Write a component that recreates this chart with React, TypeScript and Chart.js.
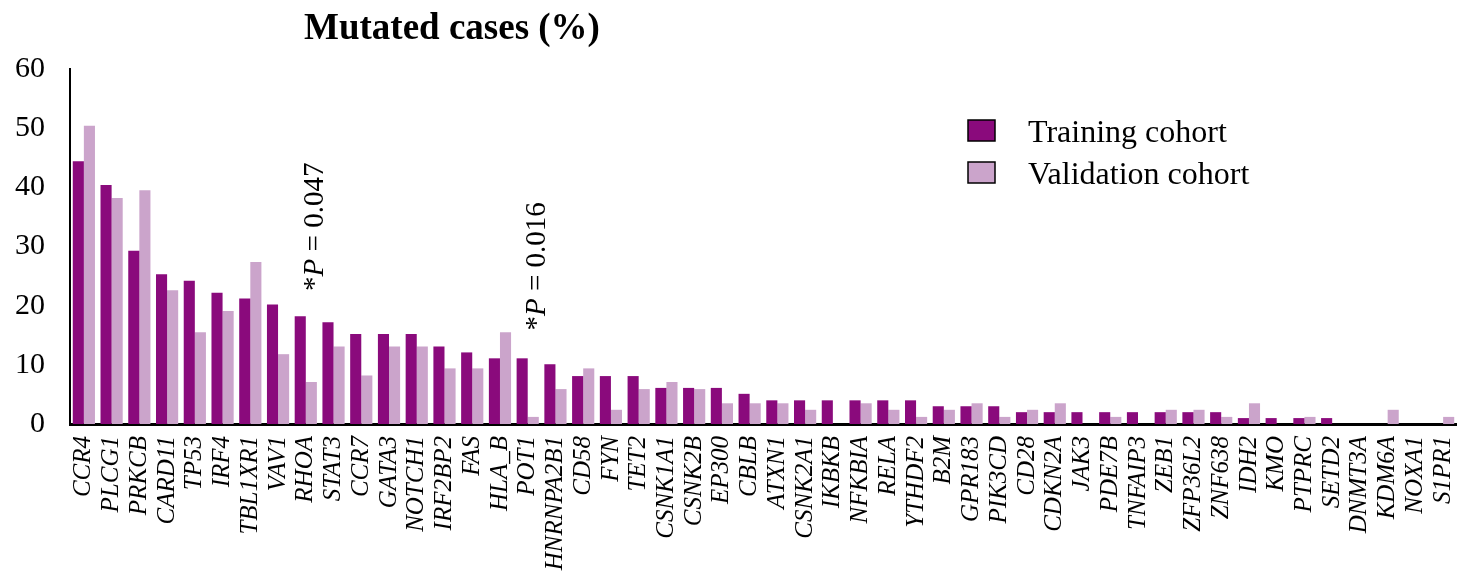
import React, { useEffect, useRef } from "react";
import { Chart, registerables } from "chart.js";

Chart.register(...registerables);

const genes = [
  "CCR4", "PLCG1", "PRKCB", "CARD11", "TP53", "IRF4", "TBL1XR1", "VAV1", "RHOA", "STAT3",
  "CCR7", "GATA3", "NOTCH1", "IRF2BP2", "FAS", "HLA_B", "POT1", "HNRNPA2B1", "CD58", "FYN",
  "TET2", "CSNK1A1", "CSNK2B", "EP300", "CBLB", "ATXN1", "CSNK2A1", "IKBKB", "NFKBIA", "RELA",
  "YTHDF2", "B2M", "GPR183", "PIK3CD", "CD28", "CDKN2A", "JAK3", "PDE7B", "TNFAIP3", "ZEB1",
  "ZFP36L2", "ZNF638", "IDH2", "KMO", "PTPRC", "SETD2", "DNMT3A", "KDM6A", "NOXA1", "S1PR1",
];

const trainingCohort = [
  44.4, 40.4, 29.3, 25.3, 24.2, 22.2, 21.2, 20.2, 18.2, 17.2,
  15.2, 15.2, 15.2, 13.1, 12.1, 11.1, 11.1, 10.1, 8.1, 8.1,
  8.1, 6.1, 6.1, 6.1, 5.1, 4.0, 4.0, 4.0, 4.0, 4.0,
  4.0, 3.0, 3.0, 3.0, 2.0, 2.0, 2.0, 2.0, 2.0, 2.0,
  2.0, 2.0, 1.0, 1.0, 1.0, 1.0, 0, 0, 0, 0,
];

const validationCohort = [
  50.4, 38.2, 39.5, 22.6, 15.5, 19.1, 27.4, 11.8, 7.1, 13.1,
  8.2, 13.1, 13.1, 9.4, 9.4, 15.5, 1.2, 5.9, 9.4, 2.4,
  5.9, 7.1, 5.9, 3.5, 3.5, 3.5, 2.4, 0, 3.5, 2.4,
  1.2, 2.4, 3.5, 1.2, 2.4, 3.5, 0, 1.2, 0, 2.4,
  2.4, 1.2, 3.5, 0, 1.2, 0, 0, 2.4, 0, 1.2,
];

const yTicks = [0, 10, 20, 30, 40, 50, 60];

const seriesNames = ["Training cohort", "Validation cohort"];
const seriesColors = ["#8A0A7C", "#CBA4CB"];

const pAnnotations = [
  { gene: "RHOA", text: "0.047", yValue: 22.5 },
  { gene: "POT1", text: "0.016", yValue: 15.8 },
];

const FONT = '"Liberation Serif", "Times New Roman", serif';

const overlayPlugin = {
  id: "overlay",
  afterDraw(chart: any) {
    const ctx = chart.ctx;
    const xs = chart.scales.x;
    const ys = chart.scales.y;
    ctx.save();
    // Title
    ctx.fillStyle = "#000";
    ctx.font = `bold 37px ${FONT}`;
    ctx.textAlign = "left";
    ctx.textBaseline = "alphabetic";
    ctx.fillText("Mutated cases (%)", 304, 39);

    // Legend
    const lx = 968;
    const ly = [120, 162];
    seriesNames.forEach((name, i) => {
      ctx.fillStyle = seriesColors[i];
      ctx.fillRect(lx, ly[i], 27, 21);
      ctx.lineWidth = 1.5;
      ctx.strokeStyle = "#000";
      ctx.strokeRect(lx, ly[i], 27, 21);
      ctx.fillStyle = "#000";
      ctx.font = `32px ${FONT}`;
      ctx.textAlign = "left";
      ctx.textBaseline = "alphabetic";
      ctx.fillText(name, 1028, ly[i] + 22);
    });

    // P-value annotations (rotated)
    pAnnotations.forEach((a) => {
      const idx = genes.indexOf(a.gene);
      const cx = xs.getPixelForValue(idx) + 17;
      const by = ys.getPixelForValue(a.yValue);
      ctx.save();
      ctx.translate(cx, by);
      ctx.rotate(-Math.PI / 2);
      ctx.fillStyle = "#000";
      ctx.textAlign = "left";
      ctx.textBaseline = "alphabetic";
      let x = 0;
      const parts = [
        { t: "*", f: `29px ${FONT}` },
        { t: "P", f: `italic 29px ${FONT}` },
        { t: " = " + a.text, f: `29px ${FONT}` },
      ];
      parts.forEach((p) => {
        ctx.font = p.f;
        ctx.fillText(p.t, x, 0);
        x += ctx.measureText(p.t).width;
      });
      ctx.restore();
    });
    ctx.restore();
  },
};

export default function App() {
  const canvasRef = useRef<HTMLCanvasElement | null>(null);

  useEffect(() => {
    if (!canvasRef.current) return;
    const chart = new Chart(canvasRef.current, {
      type: "bar",
      data: {
        labels: genes,
        datasets: [
          {
            label: seriesNames[0],
            data: trainingCohort,
            backgroundColor: seriesColors[0],
            borderWidth: 0,
            categoryPercentage: 0.8,
            barPercentage: 1.0,
          },
          {
            label: seriesNames[1],
            data: validationCohort,
            backgroundColor: seriesColors[1],
            borderWidth: 0,
            categoryPercentage: 0.8,
            barPercentage: 1.0,
          },
        ],
      },
      options: {
        animation: false,
        responsive: false,
        devicePixelRatio: 1,
        layout: {
          autoPadding: false,
          padding: { top: 69, left: 0, right: 0, bottom: 0 },
        },
        plugins: {
          legend: { display: false },
          title: { display: false },
          tooltip: { enabled: false },
        },
        scales: {
          x: {
            type: "category",
            grid: { display: false, drawTicks: false },
            border: { display: true, color: "#000", width: 3 },
            ticks: {
              autoSkip: false,
              maxRotation: 90,
              minRotation: 90,
              padding: 12,
              color: "#000",
              font: { family: FONT, size: 25, style: "italic" },
            },
            afterFit: (scale: any) => {
              scale.height = 153;
              scale.paddingLeft = 0;
              scale.paddingRight = 0;
            },
          },
          y: {
            min: 0,
            max: 60,
            grid: { display: false, drawTicks: false },
            border: { display: true, color: "#000", width: 2 },
            afterBuildTicks: (scale: any) => {
              scale.ticks = yTicks.map((v) => ({ value: v }));
            },
            ticks: {
              padding: 25,
              color: "#000",
              font: { family: FONT, size: 30 },
            },
            afterFit: (scale: any) => {
              scale.width = 70;
              scale.paddingTop = 0;
              scale.paddingBottom = 0;
            },
          },
        },
      },
      plugins: [overlayPlugin],
    });
    return () => chart.destroy();
  }, []);

  return (
    <div style={{ position: "absolute", left: 0, top: 0, width: 1457, height: 577, background: "#fff" }}>
      <canvas ref={canvasRef} width={1457} height={577} style={{ width: 1457, height: 577 }} />
    </div>
  );
}
